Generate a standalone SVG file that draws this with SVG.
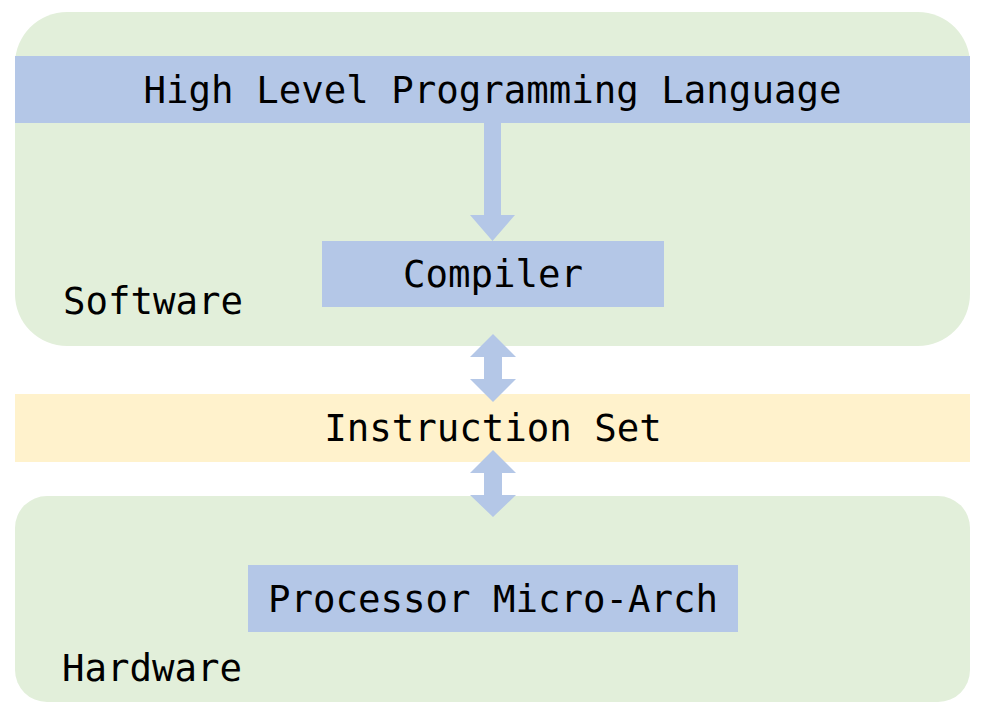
<svg xmlns="http://www.w3.org/2000/svg" width="988" height="720" viewBox="0 0 988 720">
  <style>
    .grp { fill: #E2EFDA; }
    .blue { fill: #B4C7E7; }
    .yel { fill: #FFF2CC; }
    .lbl { font-family: "DejaVu Sans Mono", "Liberation Mono", monospace; font-size: 37.4px; fill: #000; }
    .mid { text-anchor: middle; }
  </style>
  <rect width="988" height="720" fill="#ffffff"/>
  <g id="software">
    <rect class="grp" x="15" y="12" width="955" height="334" rx="52" ry="52"/>
    <text class="lbl" x="63" y="314">Software</text>
  </g>
  <g id="hardware">
    <rect class="grp" x="15" y="496" width="955" height="206" rx="32" ry="32"/>
    <text class="lbl" x="62" y="681">Hardware</text>
  </g>
  <g id="hlpl">
    <rect class="blue" x="15" y="56" width="955" height="67"/>
    <text class="lbl mid" x="492.5" y="103">High Level Programming Language</text>
  </g>
  <g id="compiler">
    <rect class="blue" x="322" y="241" width="342" height="66"/>
    <text class="lbl mid" x="493" y="287">Compiler</text>
  </g>
  <g id="isa">
    <rect class="yel" x="15" y="394" width="955" height="68"/>
    <text class="lbl mid" x="493" y="441">Instruction Set</text>
  </g>
  <g id="processor">
    <rect class="blue" x="248" y="565" width="490" height="67"/>
    <text class="lbl mid" x="493" y="612">Processor Micro-Arch</text>
  </g>
  <g id="connectors">
    <polygon class="blue" points="484,123 501,123 501,215 515,215 492.5,241 470,215 484,215"/>
    <polygon class="blue" points="493,334 516,357 502,357 502,379 516,379 493,402 470,379 484,379 484,357 470,357"/>
    <polygon class="blue" points="493,450 516,473 502,473 502,495 516,495 493,517 470,495 484,495 484,473 470,473"/>
  </g>
</svg>
